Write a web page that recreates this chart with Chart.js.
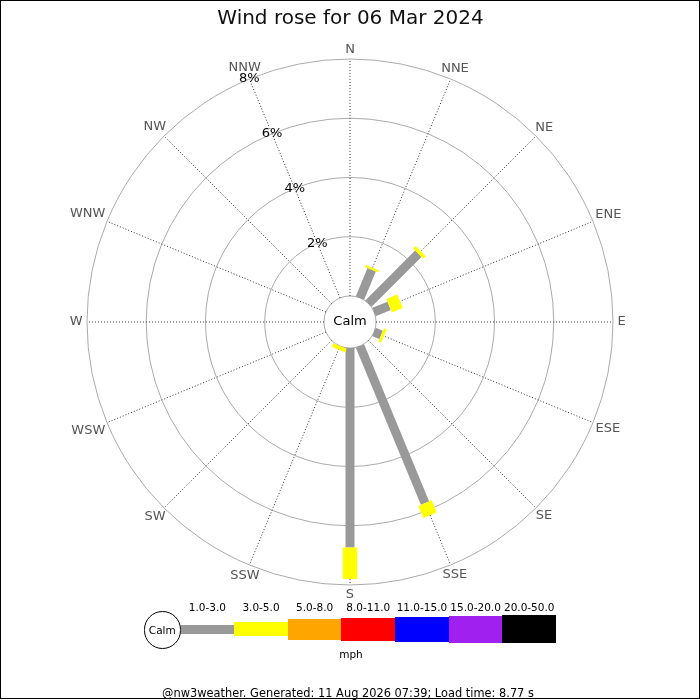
<!DOCTYPE html>
<html>
<head>
<meta charset="utf-8">
<title>Wind rose</title>
<script src="https://cdn.jsdelivr.net/npm/chart.js@4.4.1/dist/chart.umd.min.js"></script>
<style>
    body { margin: 0; background: #fff; font-family: 'DejaVu Sans', sans-serif; }
    #wrap { position: relative; width: 700px; height: 700px; overflow: hidden; }
    #frame { position: absolute; left: 0; top: 0; width: 700px; height: 699px; border: 1px solid #000; box-sizing: border-box; pointer-events: none; }
    #rose { position: absolute; left: 0; top: 0; }
    .txt { position: absolute; white-space: nowrap; transform: translate(-50%, -50%); color: #000; }
    .seg { position: absolute; }
</style>
</head>
<body>
<div id="wrap">
    <canvas id="rose" width="700" height="700"></canvas>
    <div class="txt" id="title" style="left:350.5px; top:16.5px; font-size:20px; color:#111;"></div>
    <div id="legend"></div>
    <div class="txt" id="footer" style="left:348px; top:693px; font-size:11.4px;"></div>
    <div id="frame"></div>
</div>
<script>
const chartTitle = 'Wind rose for 06 Mar 2024';
const footerText = '@nw3weather. Generated: 11 Aug 2026 07:39; Load time: 8.77 s';
const directions = ['N', 'NNE', 'NE', 'ENE', 'E', 'ESE', 'SE', 'SSE', 'S', 'SSW', 'SW', 'WSW', 'W', 'WNW', 'NW', 'NNW'];
const speedBins = ['1.0-3.0', '3.0-5.0', '5.0-8.0', '8.0-11.0', '11.0-15.0', '15.0-20.0', '20.0-50.0'];
const speedUnit = 'mph';
const calmLabel = 'Calm';

// % of the day per direction, one array per speed bin
const freq1to3 = [0, 1.03, 2.38, 0.55, 0, 0.26, 0, 5.74, 6.73, 0, 0, 0, 0, 0, 0, 0];
const freq3to5 = [0, 0.07, 0.12, 0.40, 0, 0.10, 0, 0.44, 1.07, 0.13, 0, 0, 0, 0, 0, 0];
const freq5to8 = [0, 0, 0, 0, 0, 0, 0, 0, 0, 0, 0, 0, 0, 0, 0, 0];
const freq8to11 = [0, 0, 0, 0, 0, 0, 0, 0, 0, 0, 0, 0, 0, 0, 0, 0];
const freq11to15 = [0, 0, 0, 0, 0, 0, 0, 0, 0, 0, 0, 0, 0, 0, 0, 0];
const freq15to20 = [0, 0, 0, 0, 0, 0, 0, 0, 0, 0, 0, 0, 0, 0, 0, 0];
const freq20to50 = [0, 0, 0, 0, 0, 0, 0, 0, 0, 0, 0, 0, 0, 0, 0, 0];
const series = [freq1to3, freq3to5, freq5to8, freq8to11, freq11to15, freq15to20, freq20to50];

const radialTicks = [2, 4, 6, 8];
const radialTickLabels = ['2%', '4%', '6%', '8%'];
const radialMax = 8;

// styles
const binColors = ['#999999', '#ffff00', '#ffa500', '#ff0000', '#0000ff', '#a020f0', '#000000'];
const binWidths = [9, 14.5, 20.7, 23, 25, 26.7, 28.3];
const calmOffset = 0.88; // radius of calm circle, in % units

const axisMax = radialMax + calmOffset;
const toRad = (i) => i * 2 * Math.PI / directions.length;

const datasets = [];
speedBins.forEach((bin, b) => {
    const pts = [];
    directions.forEach((dir, i) => {
        const v = series[b][i];
        if (!v) return;
        let base = 0;
        for (let k = 0; k < b; k++) base += series[k][i];
        const a = toRad(i);
        const r0 = calmOffset + base;
        const r1 = r0 + v;
        pts.push({ x: r0 * Math.sin(a), y: r0 * Math.cos(a) });
        pts.push({ x: r1 * Math.sin(a), y: r1 * Math.cos(a) });
        pts.push({ x: null, y: null });
    });
    datasets.push({
        label: bin,
        data: pts,
        showLine: true,
        spanGaps: false,
        borderColor: binColors[b],
        backgroundColor: binColors[b],
        borderWidth: binWidths[b],
        borderCapStyle: 'butt',
        pointRadius: 0,
        order: speedBins.length - b
    });
});

//Lưới cực: vòng tròn, tia, nhãn hướng
const roseGrid = {
    id: 'roseGrid',
    beforeDatasetsDraw(chart) {
        const { ctx, scales: { x, y } } = chart;
        const cx = x.getPixelForValue(0);
        const cy = y.getPixelForValue(0);
        const px = (v) => x.getPixelForValue(v) - cx;
        const rCalm = px(calmOffset);
        const rOut = px(axisMax);
        ctx.save();
        ctx.lineWidth = 1;
        ctx.strokeStyle = '#aaaaaa';
        [0, ...radialTicks].forEach(t => {
            ctx.beginPath();
            ctx.arc(cx, cy, px(calmOffset + t), 0, 2 * Math.PI);
            ctx.stroke();
        });
        ctx.strokeStyle = '#333333';
        ctx.setLineDash([1, 2]);
        directions.forEach((d, i) => {
            const a = toRad(i);
            ctx.beginPath();
            ctx.moveTo(cx + rCalm * Math.sin(a), cy - rCalm * Math.cos(a));
            ctx.lineTo(cx + rOut * Math.sin(a), cy - rOut * Math.cos(a));
            ctx.stroke();
        });
        ctx.setLineDash([]);
        ctx.textAlign = 'center';
        ctx.textBaseline = 'middle';
        ctx.font = '13px "DejaVu Sans"';
        ctx.fillStyle = '#555555';
        directions.forEach((d, i) => {
            const a = toRad(i);
            const hw = ctx.measureText(d).width / 2 * Math.abs(Math.sin(a));
            const hh = 4.75 * Math.abs(Math.cos(a));
            const r = rOut + 4.5 + Math.sqrt(hw * hw + hh * hh);
            ctx.fillText(d, cx + r * Math.sin(a), cy - r * Math.cos(a));
        });
        ctx.fillStyle = '#000000';
        const la = toRad(directions.length - 1);
        radialTicks.forEach((t, k) => {
            const r = px(calmOffset + t);
            ctx.fillText(radialTickLabels[k], cx + r * Math.sin(la), cy - r * Math.cos(la));
        });
        ctx.fillText(calmLabel, cx, cy);
        ctx.restore();
    }
};

const config = {
    type: 'scatter',
    data: { datasets: datasets },
    options: {
        responsive: false,
        animation: false,
        layout: { padding: { left: 87, right: 87, top: 59, bottom: 115 } },
        scales: {
            x: { display: false, min: -axisMax, max: axisMax },
            y: { display: false, min: -axisMax, max: axisMax }
        },
        plugins: {
            legend: { display: false },
            tooltip: { enabled: false },
            title: { display: false }
        }
    },
    plugins: [roseGrid]
};
new Chart(document.getElementById('rose').getContext('2d'), config);

document.getElementById('title').textContent = chartTitle;
document.getElementById('footer').textContent = footerText;

// Chú giải tốc độ gió
const legendDOM = document.getElementById('legend');
const legStart = 180.5;
const legStep = 53.65;
const legMid = 629.2;
let html = `<div style="position:absolute; left:143.5px; top:611.2px; width:37.6px; height:37.6px; border:1px solid #000; border-radius:50%; box-sizing:border-box;"></div>
<div class="txt" style="left:162.3px; top:630px; font-size:10.5px;">${calmLabel}</div>`;
speedBins.forEach((bin, b) => {
    const h = binWidths[b];
    html += `<div class="seg" style="left:${legStart + b * legStep}px; top:${legMid - h / 2}px; width:${legStep + 0.3}px; height:${h}px; background:${binColors[b]};"></div>`;
    html += `<div class="txt" style="left:${legStart + (b + 0.5) * legStep}px; top:607px; font-size:10.5px;">${bin}</div>`;
});
html += `<div class="txt" style="left:351px; top:654px; font-size:10.5px;">${speedUnit}</div>`;
legendDOM.innerHTML = html;
</script>
</body>
</html>
